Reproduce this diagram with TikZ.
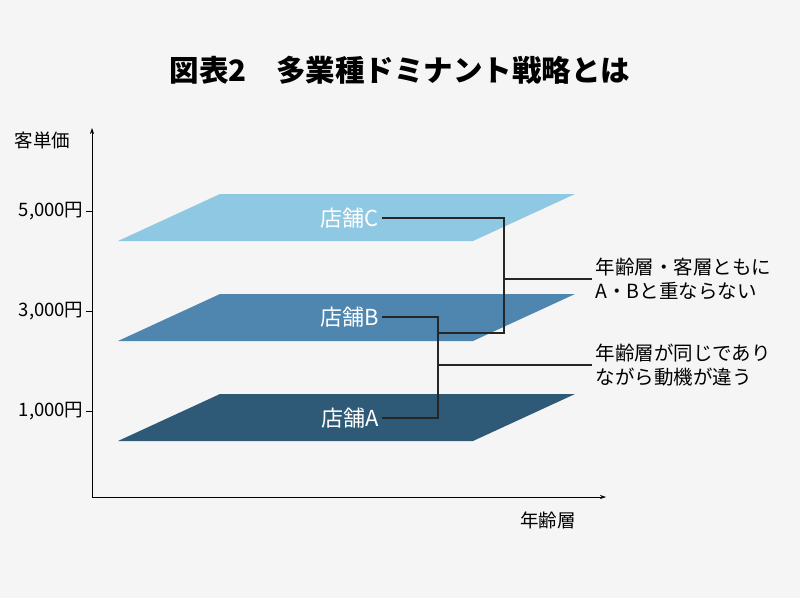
\documentclass[tikz,border=0pt]{standalone}
\usepackage{fontspec}
\setmainfont{Noto Sans CJK JP}
\usetikzlibrary{arrows.meta}
\definecolor{bgcol}{HTML}{F5F5F5}
\definecolor{storeC}{HTML}{8FC8E3}
\definecolor{storeB}{HTML}{4E86B0}
\definecolor{storeA}{HTML}{2E5A78}

\begin{document}
\begin{tikzpicture}[
  x=1pt, y=-1pt,
  axis/.style={semithick, -{Stealth[length=6pt,width=4pt]}},
  store label/.style={color=white, font=\fontsize{22}{24}\selectfont},
  bracket line/.style={line width=1.3pt, color=black!85},
  note/.style={anchor=west, align=left, font=\fontsize{19.5}{24}\selectfont},
  tick label/.style={anchor=east, font=\fontsize{18.5}{20}\selectfont}
  ]
  \fill[bgcol] (0,0) rectangle (800,598);
  \useasboundingbox (0,0) rectangle (800,598);

  \node (title) at (400,70) {\fontsize{29.5}{32}\selectfont\bfseries 図表2\quad 多業種ドミナント戦略とは};

  % axes
  \coordinate (O) at (92,497);
  \draw[axis] (O) -- (92,128) coordinate (ytop);
  \draw[axis] (O) -- (606,497) coordinate (xend);
  \node[anchor=east, font=\fontsize{18.5}{20}\selectfont] (ylab) at (74,140) {客単価};
  \node[font=\fontsize{18.5}{20}\selectfont] (xlab) at (548,520) {年齢層};

  \foreach \yy/\val in {211/5{,}000円, 311/3{,}000円, 411/1{,}000円} {
    \draw[semithick] (86,\yy) -- (92,\yy);
    \node[tick label] at (87,\yy) {\val};
  }

  % layers
  \fill[storeC] (220,194) -- (575,194) -- (473,241) -- (118,241) -- cycle;
  \fill[storeB] (220,294) -- (575,294) -- (473,341) -- (118,341) -- cycle;
  \fill[storeA] (220,394) -- (575,394) -- (473,441) -- (118,441) -- cycle;

  \node[store label, anchor=east] (C) at (382,218) {店舗C};
  \node[store label, anchor=east] (B) at (382,317) {店舗B};
  \node[store label, anchor=east] (A) at (382,418) {店舗A};

  % brackets
  \draw[bracket line] (C.east) -- (504,218) -- (504,333) -- (437,333);
  \draw[bracket line] (B.east) -- (438,317) -- (438,418) -- (A.east);
  \node[note] (n1) at (592,279) {年齢層・客層ともに\\A・Bと重ならない};
  \node[note] (n2) at (592,365) {年齢層が同じであり\\ながら動機が違う};
  \draw[bracket line] (504,279) -- (n1.west);
  \draw[bracket line] (438,365) -- (n2.west);
\end{tikzpicture}
\end{document}
